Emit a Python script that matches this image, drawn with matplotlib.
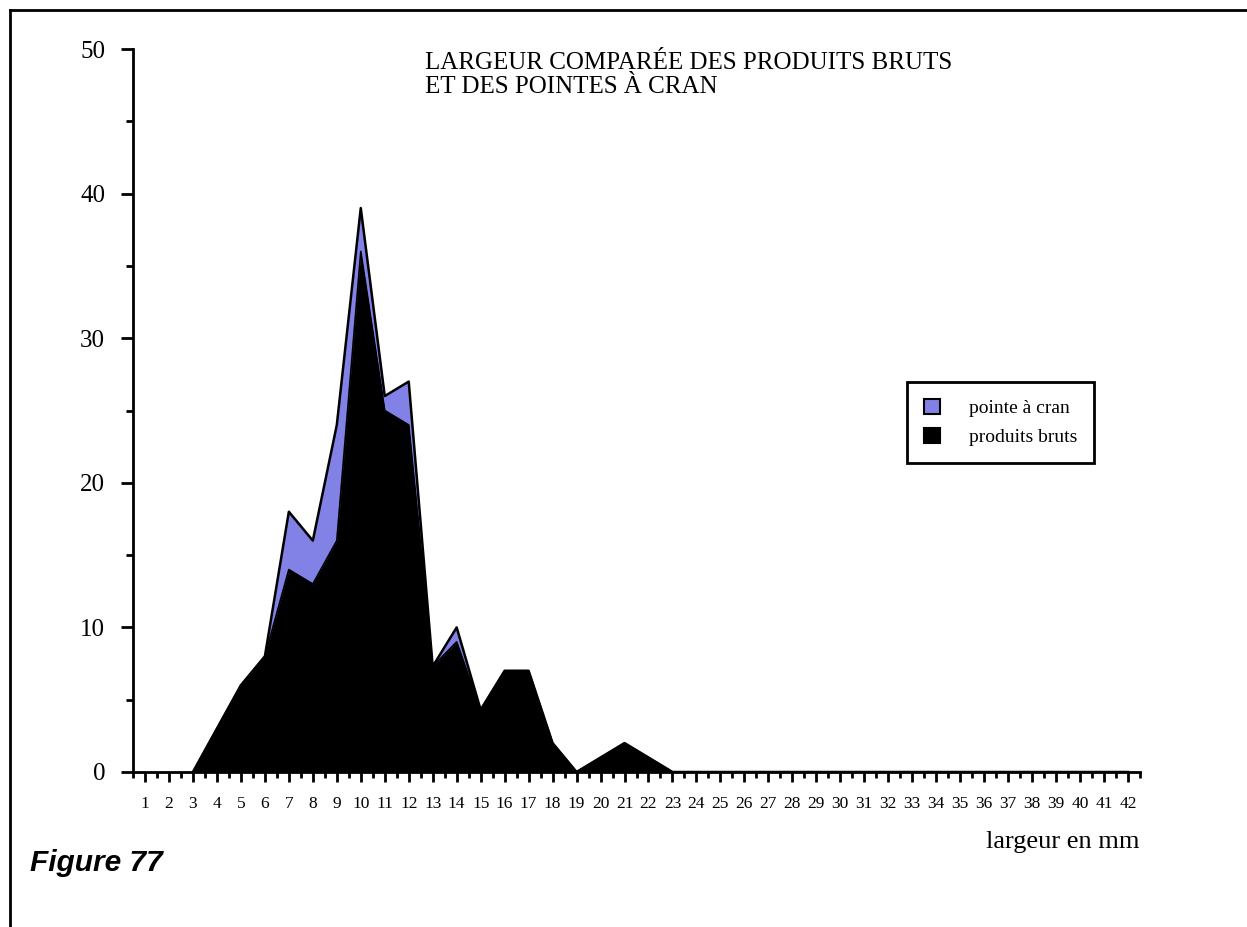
import numpy as np
import matplotlib
matplotlib.use("Agg")
import matplotlib.pyplot as plt
from matplotlib.patches import Patch
from matplotlib.lines import Line2D

# largeur en mm (1..42)
widths = list(range(1, 43))

# produits bruts (aire noire)
bruts = [0, 0, 0, 3, 6, 8, 14, 13, 16, 36, 25, 24, 7.3, 9, 4.3, 7, 7, 2, 0, 1, 2, 1,
         0, 0, 0, 0, 0, 0, 0, 0, 0, 0, 0, 0, 0, 0, 0, 0, 0, 0, 0, 0]
# pointes a cran (empilees au-dessus)
pointes = [0, 0, 0, 0, 0, 0, 4, 3, 8, 3, 1, 3, 0, 1, 0, 0, 0, 0, 0, 0, 0, 0,
           0, 0, 0, 0, 0, 0, 0, 0, 0, 0, 0, 0, 0, 0, 0, 0, 0, 0, 0, 0]

title = "LARGEUR COMPARÉE DES PRODUITS BRUTS\nET DES POINTES À CRAN"
labels = ["pointe à cran", "produits bruts"]
PURPLE = "#8282e6"

plt.rcParams["font.family"] = ["Liberation Serif", "DejaVu Serif"]

W, H = 1247, 927
fig = plt.figure(figsize=(W / 100, H / 100), dpi=100, facecolor="w")
ax = fig.add_axes([133 / W, 1 - 772 / H, (1140 - 133) / W, (772 - 49) / H])

x = np.array(widths)
b = np.array(bruts, dtype=float)
p = np.array(pointes, dtype=float)
total = b + p

ax.fill_between(x, 0, total, color=PURPLE, lw=0)
ax.fill_between(x, 0, b, color="black", lw=0)
ax.plot(x[2:], b[2:], color="black", lw=1.2)
ax.plot(x[2:], total[2:], color="black", lw=1.8)

ax.set_xlim(0.5, 42.5)
ax.set_ylim(0, 50)
for s in ("top", "right"):
    ax.spines[s].set_visible(False)
for s in ("left", "bottom"):
    ax.spines[s].set_linewidth(2)

ax.set_xticks(widths)
ax.set_xticks(np.arange(0.5, 43, 1), minor=True)
ax.set_yticks(range(0, 51, 10))
ax.set_yticks(range(5, 50, 10), minor=True)
ax.tick_params(axis="x", which="major", direction="out", length=7, width=2,
               labelsize=12.5, pad=10)
ax.tick_params(axis="x", which="minor", direction="out", length=4, width=2)
ax.tick_params(axis="y", which="major", direction="out", length=9, width=2,
               labelsize=18, pad=11)
ax.tick_params(axis="y", which="minor", direction="out", length=5, width=2)

fig.text(425 / W, 1 - 52 / H, title, fontsize=18,
         va="top", ha="left", linespacing=1.1)
fig.text(1140 / W, 1 - 842 / H, "largeur en mm", fontsize=19, ha="right", va="center")
fig.text(30 / W, 1 - 863 / H, "Figure 77", fontsize=21.5, ha="left", va="center",
         family="Liberation Sans", weight="bold", style="italic")

handles = [Patch(facecolor=PURPLE, edgecolor="black", lw=1.5),
           Patch(facecolor="black", edgecolor="black", lw=1.5)]
leg = ax.legend(handles, labels, loc="upper left",
                bbox_to_anchor=((907 - 133) / 1007, (772 - 382) / 723),
                fontsize=14, frameon=True, fancybox=False, framealpha=1,
                borderpad=0.85, handlelength=0.85, handleheight=0.85,
                handletextpad=1.5, labelspacing=0.55, borderaxespad=0)
leg.get_frame().set_edgecolor("black")
leg.get_frame().set_linewidth(2)

# cadre de page: haut et gauche
fig.add_artist(Line2D([10 / W, 1], [1 - 10 / H, 1 - 10 / H], color="black", lw=2,
                      transform=fig.transFigure))
fig.add_artist(Line2D([10 / W, 10 / W], [0, 1 - 10 / H], color="black", lw=2,
                      transform=fig.transFigure))

fig.savefig("out.png", dpi=100)
